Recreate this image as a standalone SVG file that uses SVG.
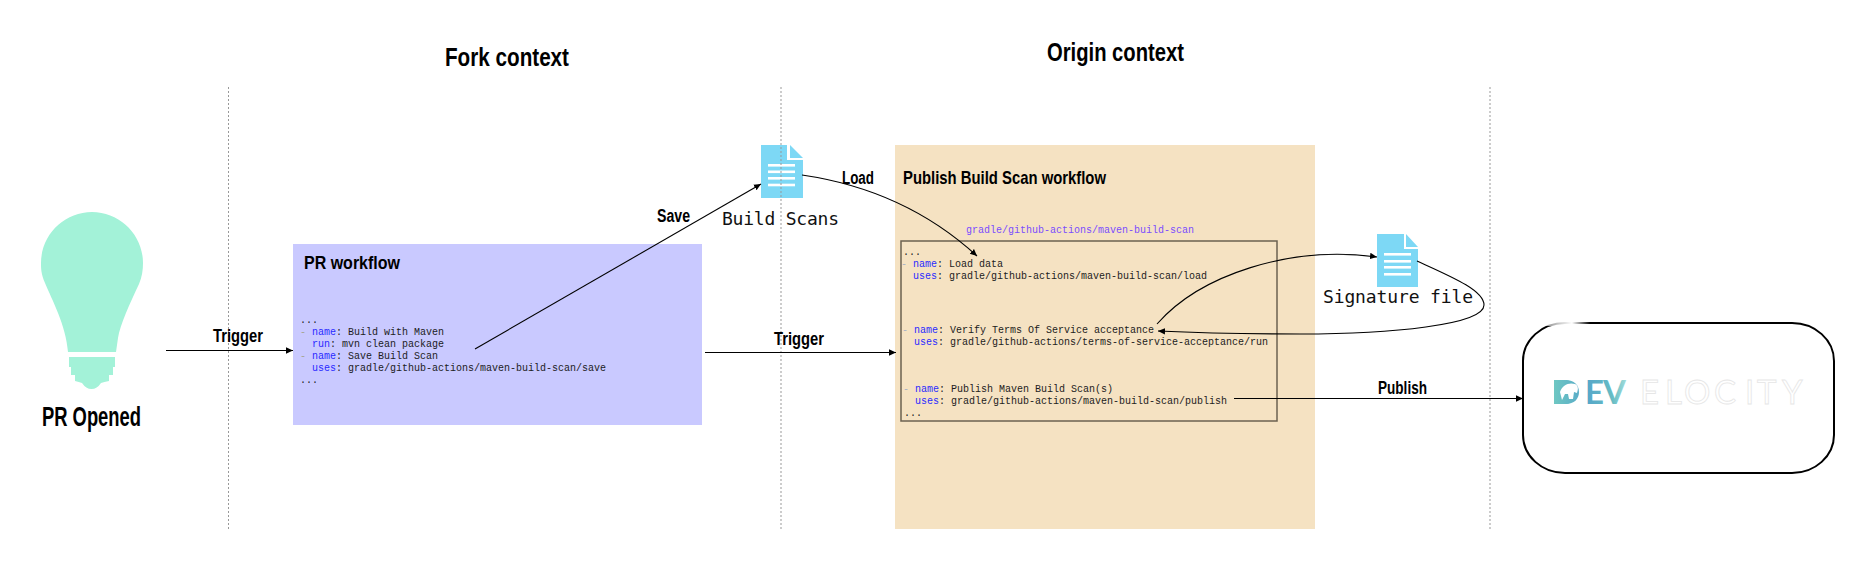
<svg xmlns="http://www.w3.org/2000/svg" width="1872" height="566" viewBox="0 0 1872 566">
<style>
.h{font-family:"Liberation Sans Narrow","Liberation Sans",sans-serif;font-weight:700;fill:#000}
.h18{font-size:18px}.h26{font-size:26px}
.m{font-family:"Liberation Mono",monospace;font-size:10px;fill:#1c1c1c}
.k{fill:#2a2aff}.d1{fill:#a5a58f}.d2{fill:#a8b2c6}
.f{font-family:"DejaVu Sans Mono",monospace;font-size:18px;fill:#111}
.c{fill:none;stroke:#000;stroke-width:1.1}
.g{fill:none;stroke:#999;stroke-width:1;stroke-dasharray:2 2}
.doc{fill:#7dd8f5}.w{fill:#fff}
</style>
<defs>
<marker id="a" markerUnits="userSpaceOnUse" markerWidth="8" markerHeight="8" refX="7" refY="4" orient="auto"><path d="M0,0.8L7,4L0,7.2Z" fill="#000"/></marker>
<linearGradient id="lg" gradientUnits="userSpaceOnUse" x1="1553" y1="0" x2="1632" y2="0"><stop offset="0" stop-color="#6fc8c2"/><stop offset=".42" stop-color="#55a6c9"/><stop offset=".75" stop-color="#66bcc4"/><stop offset=".95" stop-color="#a8e0dc"/><stop offset="1" stop-color="#ffffff"/></linearGradient>
<linearGradient id="fade" gradientUnits="userSpaceOnUse" x1="1545" y1="0" x2="1590" y2="0"><stop offset="0" stop-color="#fff" stop-opacity=".55"/><stop offset=".6" stop-color="#fff" stop-opacity="1"/><stop offset="1" stop-color="#fff" stop-opacity="0"/></linearGradient>
</defs>
<rect width="1872" height="566" fill="#fff"/>

<g id="context-labels">
<text class="h h26" x="445" y="66" textLength="124" lengthAdjust="spacingAndGlyphs">Fork context</text>
<text class="h h26" x="1047" y="61" textLength="137" lengthAdjust="spacingAndGlyphs">Origin context</text>
</g>

<g id="pr-opened">
<path fill="#a3f2d8" d="M68,352C66,325 52,300 45,283C41,274 41,268 41,263C41,235 64,212 92,212C120,212 143,235 143,263C143,270 142,277 139,284C130,303 120,325 118,338L116,352Z"/>
<path fill="#a3f2d8" d="M69,357H115V367H113V375H109V381Q104,382 101,383Q97,389 91.500,389Q86,389 82,383Q79,382 75,381V375H71V367H69Z"/>
<text class="h" font-size="27" x="42" y="426" textLength="99" lengthAdjust="spacingAndGlyphs">PR Opened</text>
</g>

<g id="pr-workflow">
<rect x="293" y="244" width="409" height="181" fill="#c9c9ff"/>
<text class="h" font-size="19" x="304" y="269" textLength="96" lengthAdjust="spacingAndGlyphs">PR workflow</text>
<text class="m" x="300" y="323">...</text>
<text class="m" x="300" y="335"><tspan class="d1">-</tspan> <tspan class="k">name</tspan>: Build with Maven</text>
<text class="m" x="312" y="347"><tspan class="k">run</tspan>: mvn clean package</text>
<text class="m" x="300" y="359"><tspan class="d1">-</tspan> <tspan class="k">name</tspan>: Save Build Scan</text>
<text class="m" x="312" y="371"><tspan class="k">uses</tspan>: gradle/github-actions/maven-build-scan/save</text>
<text class="m" x="300" y="383">...</text>
</g>

<g id="build-scans">
<path class="doc" d="M761,145H787V160H803V198H761Z"/>
<path class="doc" d="M790,145L803,158H790Z"/>
<rect class="w" x="768" y="164" width="27" height="2.600"/>
<rect class="w" x="768" y="170.500" width="27" height="2.600"/>
<rect class="w" x="768" y="177" width="27" height="2.600"/>
<rect class="w" x="768" y="183.700" width="27" height="2.600"/>
<text class="f" x="722" y="225" textLength="117">Build Scans</text>
</g>

<g id="publish-workflow">
<rect x="895" y="145" width="420" height="384" fill="#f5e2c2"/>
<text class="h" font-size="19" x="903" y="184" textLength="203" lengthAdjust="spacingAndGlyphs">Publish Build Scan workflow</text>
<text class="m" x="966" y="233" style="fill:#7a4dff">gradle/github-actions/maven-build-scan</text>
<rect x="901" y="241" width="376" height="180" fill="none" stroke="#6b6150" stroke-width="1.500"/>
<text class="m" x="903" y="255">...</text>
<text class="m" x="901" y="267"><tspan class="d2">-</tspan> <tspan class="k">name</tspan>: Load data</text>
<text class="m" x="913" y="279"><tspan class="k">uses</tspan>: gradle/github-actions/maven-build-scan/load</text>
<text class="m" x="902" y="333"><tspan class="d2">-</tspan> <tspan class="k">name</tspan>: Verify Terms Of Service acceptance</text>
<text class="m" x="914" y="345"><tspan class="k">uses</tspan>: gradle/github-actions/terms-of-service-acceptance/run</text>
<text class="m" x="903" y="392"><tspan class="d2">-</tspan> <tspan class="k">name</tspan>: Publish Maven Build Scan(s)</text>
<text class="m" x="915" y="404"><tspan class="k">uses</tspan>: gradle/github-actions/maven-build-scan/publish</text>
<text class="m" x="904" y="416">...</text>
</g>

<g id="signature-file">
<path class="doc" d="M1377,234H1404V249H1418V287H1377Z"/>
<path class="doc" d="M1406,234L1418,247H1406Z"/>
<rect class="w" x="1384" y="253" width="27" height="2.600"/>
<rect class="w" x="1384" y="260" width="27" height="2.600"/>
<rect class="w" x="1384" y="266" width="27" height="2.600"/>
<rect class="w" x="1384" y="273" width="27" height="2.600"/>
<text class="f" x="1323" y="303" textLength="150">Signature file</text>
</g>

<g id="develocity">
<rect x="1523" y="323" width="311" height="150" rx="42" ry="38" fill="#fff" stroke="#000" stroke-width="2"/>
<rect x="1545" y="320" width="45" height="6" fill="url(#fade)"/>
<path fill="url(#lg)" d="M1554,380H1566C1574,380 1579,385 1579,392C1579,399 1574,404 1566,404H1554Z"/>
<text font-family="Lato,'Liberation Sans',sans-serif" font-size="33" font-weight="400" y="404" x="1552 1585 1603 1640 1665 1684 1714 1745 1757 1782"><tspan fill="url(#lg)" font-weight="700">DEV</tspan><tspan fill="#fff" stroke="#e6e6e6" stroke-width=".8">ELOCITY</tspan></text>
<path class="w" d="M1560,392C1562,385 1569,382 1575,384C1579,386 1578,390 1577,393L1574,392L1573,399L1569,399L1568,394L1565,394L1562,400Z"/>
</g>

<g id="guides">
<path class="g" d="M228.500,87V529M781,87V529M1490,87V529"/>
</g>

<g id="connectors">
<path class="c" marker-end="url(#a)" d="M166,350.500H293"/>
<path class="c" marker-end="url(#a)" d="M475,349L761,184"/>
<path class="c" marker-end="url(#a)" d="M705,352.500H896"/>
<path class="c" marker-end="url(#a)" d="M802,175Q905,190 977,256"/>
<path class="c" marker-end="url(#a)" d="M1157,324C1200,275 1290,245 1377,257"/>
<path class="c" marker-end="url(#a)" d="M1417,261C1450,276 1484,290 1484,305C1484,325 1390,334 1300,334C1250,334 1200,333 1158,331"/>
<path class="c" marker-end="url(#a)" d="M1234,398.500H1523"/>
</g>

<g id="connector-labels">
<text class="h h18" x="213" y="342" textLength="50" lengthAdjust="spacingAndGlyphs">Trigger</text>
<text class="h h18" x="657" y="222" textLength="33" lengthAdjust="spacingAndGlyphs">Save</text>
<text class="h h18" x="842" y="184" textLength="32" lengthAdjust="spacingAndGlyphs">Load</text>
<text class="h h18" x="774" y="345" textLength="50" lengthAdjust="spacingAndGlyphs">Trigger</text>
<text class="h h18" x="1378" y="394" textLength="49" lengthAdjust="spacingAndGlyphs">Publish</text>
</g>
</svg>
